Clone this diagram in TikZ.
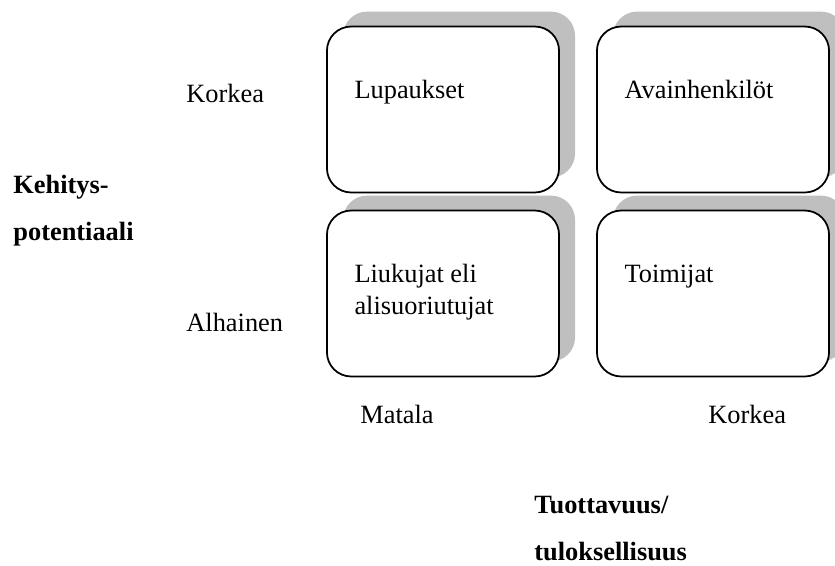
\documentclass[tikz,border=0pt]{standalone}
\usepackage{fontspec}
\setmainfont{Liberation Serif}
\usetikzlibrary{positioning,calc,shadows}

\begin{document}
\begin{tikzpicture}[x=0.455pt, y=-0.455pt,
    cell/.style={draw, thick, rounded corners=11pt, fill=white,
        minimum width=105.6pt, minimum height=75.5pt, inner sep=0pt,
        drop shadow={shadow xshift=7.3pt, shadow yshift=6.8pt, fill=black!25, opacity=1}},
    celltext/.style={anchor=base west, inner sep=0pt, align=left,
        font=\fontsize{12}{14.6}\selectfont},
    axistext/.style={anchor=base west, inner sep=0pt,
        font=\fontsize{12}{14.4}\selectfont},
    axistitle/.style={anchor=base west, inner sep=0pt, align=left,
        font=\fontsize{12}{21}\selectfont\bfseries}]
    \useasboundingbox (0,0) rectangle (835,565);
    \clip (0,0) rectangle (835,565);

    % Cells
    \node [cell] (lupaukset) at (443,109.5) {};
    \node [cell] (avain) at (713,109.5) {};
    \node [cell] (liukujat) at (443,293.5) {};
    \node [cell] (toimijat) at (713,293.5) {};

    % Cell texts (base = last line)
    \node [celltext] (lupauksetText) at ($(lupaukset.north west)+(28,73)$) {Lupaukset};
    \node [celltext] (avainText) at ($(avain.north west)+(28,73)$) {Avainhenkilöt};
    \node [celltext] (liukujatText) at ($(liukujat.north west)+(28,105)$) {Liukujat eli\\alisuoriutujat};
    \node [celltext] (toimijatText) at ($(toimijat.north west)+(28,73)$) {Toimijat};

    % Vertical axis
    \node [axistitle] (kehitys) at (13,240) {Kehitys-\\potentiaali};
    \node [axistext] (korkeaY) at (186,102) {Korkea};
    \node [axistext] (alhainen) at (186,331) {Alhainen};

    % Horizontal axis
    \node [axistext] (matala) at (360,423) {Matala};
    \node [axistext] (korkeaX) at (708,423) {Korkea};
    \node [axistitle] (tuottavuus) at (534,560) {Tuottavuus/\\tuloksellisuus};
\end{tikzpicture}
\end{document}
